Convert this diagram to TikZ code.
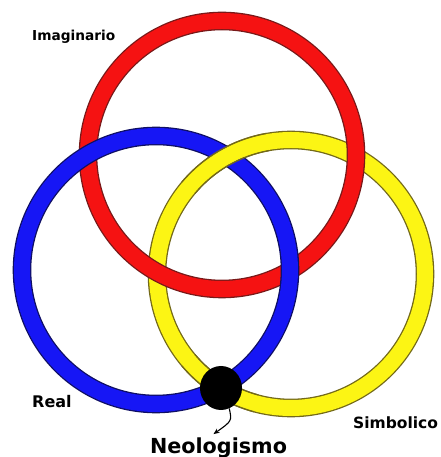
\documentclass[tikz,border=0pt]{standalone}
\usepackage{fontspec}
\setmainfont{DejaVu Sans}
\usetikzlibrary{arrows.meta,shapes.geometric}
\definecolor{rred}{RGB}{245,18,18}
\definecolor{rredo}{RGB}{120,25,25}
\definecolor{rblue}{RGB}{22,22,245}
\definecolor{rblueo}{RGB}{15,15,100}
\definecolor{ryel}{RGB}{252,245,20}
\definecolor{ryelo}{RGB}{115,105,25}
\tikzset{
  ring/.style 2 args={draw=#2, line width=1.3pt, double=#1, double distance=16pt, line cap=butt},
  lbl/.style={font=\bfseries, inner sep=0pt, text=black},
  band/.style={draw=ryel, line width=16pt, line cap=butt},
  edge/.style={draw=ryelo, line width=1.3pt, line cap=butt},
}
\begin{document}
\begin{tikzpicture}[x=1pt,y=1pt]
\useasboundingbox (0,0) rectangle (440,457);
\coordinate (cr) at (222,302);
\coordinate (cb) at (156,187);
\coordinate (cy) at (291,183);
% yellow ring (under red)
\draw[ring={ryel}{ryelo}] (cy) circle[radius=134];
% red ring (over yellow, under blue)
\draw[ring={rred}{rredo}] (cr) circle[radius=134];
% blue ring (over red)
\draw[ring={rblue}{rblueo}] (cb) circle[radius=134];
% yellow over blue at its two crossings
\foreach \a/\b in {100/140, 220/255}{
  \draw[band] ([shift={(\a:134)}]cy) arc[start angle=\a, end angle=\b, radius=134];
  \draw[edge] ([shift={(\a:142.65)}]cy) arc[start angle=\a, end angle=\b, radius=142.65];
  \draw[edge] ([shift={(\a:125.35)}]cy) arc[start angle=\a, end angle=\b, radius=125.35];
}
% dot
\node[ellipse, fill=black, minimum width=42pt, minimum height=44pt, inner sep=0pt] (dot) at (221,69) {};
% labels
\node[lbl, anchor=base west, font=\bfseries\fontsize{13.7}{16}\selectfont] (imag) at (32,416) {Imaginario};
\node[lbl, anchor=base west, font=\bfseries\fontsize{16}{19}\selectfont] (real) at (32,49) {Real};
\node[lbl, anchor=base west, font=\bfseries\fontsize{15.5}{18}\selectfont] (simb) at (353,28) {Simbolico};
\node[lbl, anchor=base, font=\bfseries\fontsize{20.7}{24}\selectfont] (neo) at (218.5,4) {Neologismo};
\draw[line width=1.1pt, -{Stealth[length=6pt,width=5pt]}] (dot.-68) .. controls (232,36) .. ([xshift=-5pt,yshift=3pt]neo.north);
\end{tikzpicture}
\end{document}
